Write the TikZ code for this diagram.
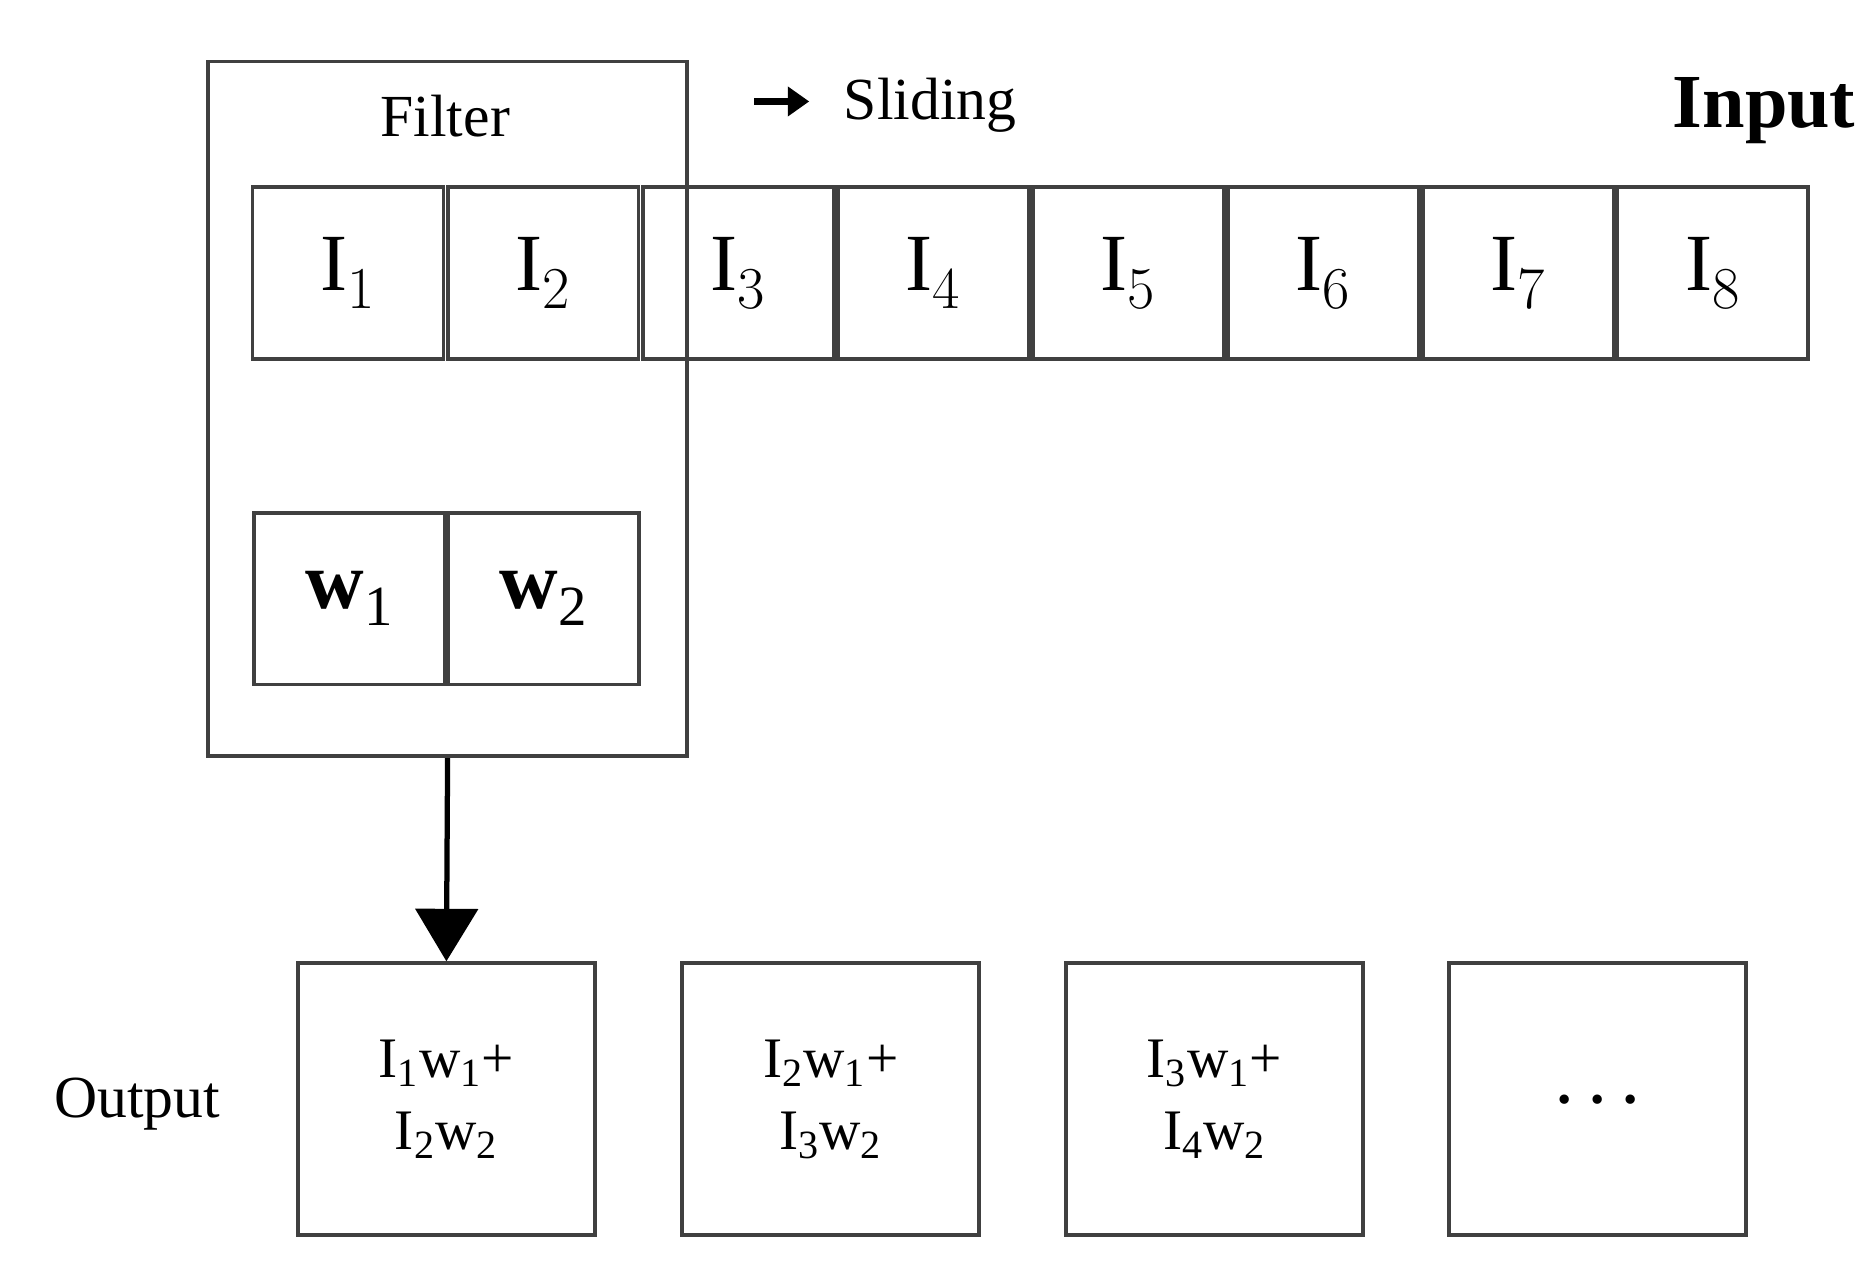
\documentclass[tikz,border=0pt]{standalone}
\usepackage{fontspec}
\setmainfont{Liberation Serif}
\usetikzlibrary{arrows.meta}
\begin{document}
\begin{tikzpicture}[x=0.5pt,y=-0.5pt,
  box/.style={draw=black!75,line width=1.6pt},
  cell/.style={box,minimum width=80pt,minimum height=72pt,inner sep=0pt,font=\fontsize{34}{36}\selectfont},
  wcell/.style={box,minimum width=80pt,minimum height=72pt,inner sep=0pt,font=\fontsize{34}{36}\selectfont\bfseries},
  obox/.style={box,minimum width=124.5pt,minimum height=114pt,inner sep=0pt,align=center,font=\fontsize{24}{30}\selectfont},
  lab/.style={font=\fontsize{25}{28}\selectfont}]
\useasboundingbox (0,0) rectangle (1560,1057);
\node[box,minimum width=200.5pt,minimum height=291pt,inner sep=0pt] (filter) at (375,342.5) {};
\node[lab] (ft) at (373,97) {Filter};
\foreach \i/\x in {1/291.5,2/455,3/618.5,4/782,5/945.5,6/1108.5,7/1272,8/1435}
  \node[cell] (I\i) at (\x,228.5) {I$_{\i}$};
\node[wcell] (w1) at (293,501.5) {w\textsubscript{\normalfont 1}};
\node[wcell] (w2) at (455.5,501.5) {w\textsubscript{\normalfont 2}};
\node[obox] (o1) at (374,921) {I\textsubscript{1}w\textsubscript{1}+\\I\textsubscript{2}w\textsubscript{2}};
\node[obox] (o2) at (696,921) {I\textsubscript{2}w\textsubscript{1}+\\I\textsubscript{3}w\textsubscript{2}};
\node[obox] (o3) at (1017.5,921) {I\textsubscript{3}w\textsubscript{1}+\\I\textsubscript{4}w\textsubscript{2}};
\node[obox] (o4) at (1338.5,921) {\textbf{. . .}};
\node[lab] (out) at (115,925) {Output};
\node[lab,anchor=west] (sl) at (700,88) {Sliding};
\coordinate (sa) at (632,85);
\coordinate (sb) at (678,85);
\draw[line width=3pt,-{Triangle[length=9pt,width=12pt]}] (sa) -- (sb);
\node[font=\fontsize{32}{36}\selectfont\bfseries] (inp) at (1478,93) {Input};
\draw[line width=2.2pt,-{Triangle[length=22pt,width=26pt]}] (filter.south) -- (o1.north);
\end{tikzpicture}
\end{document}
